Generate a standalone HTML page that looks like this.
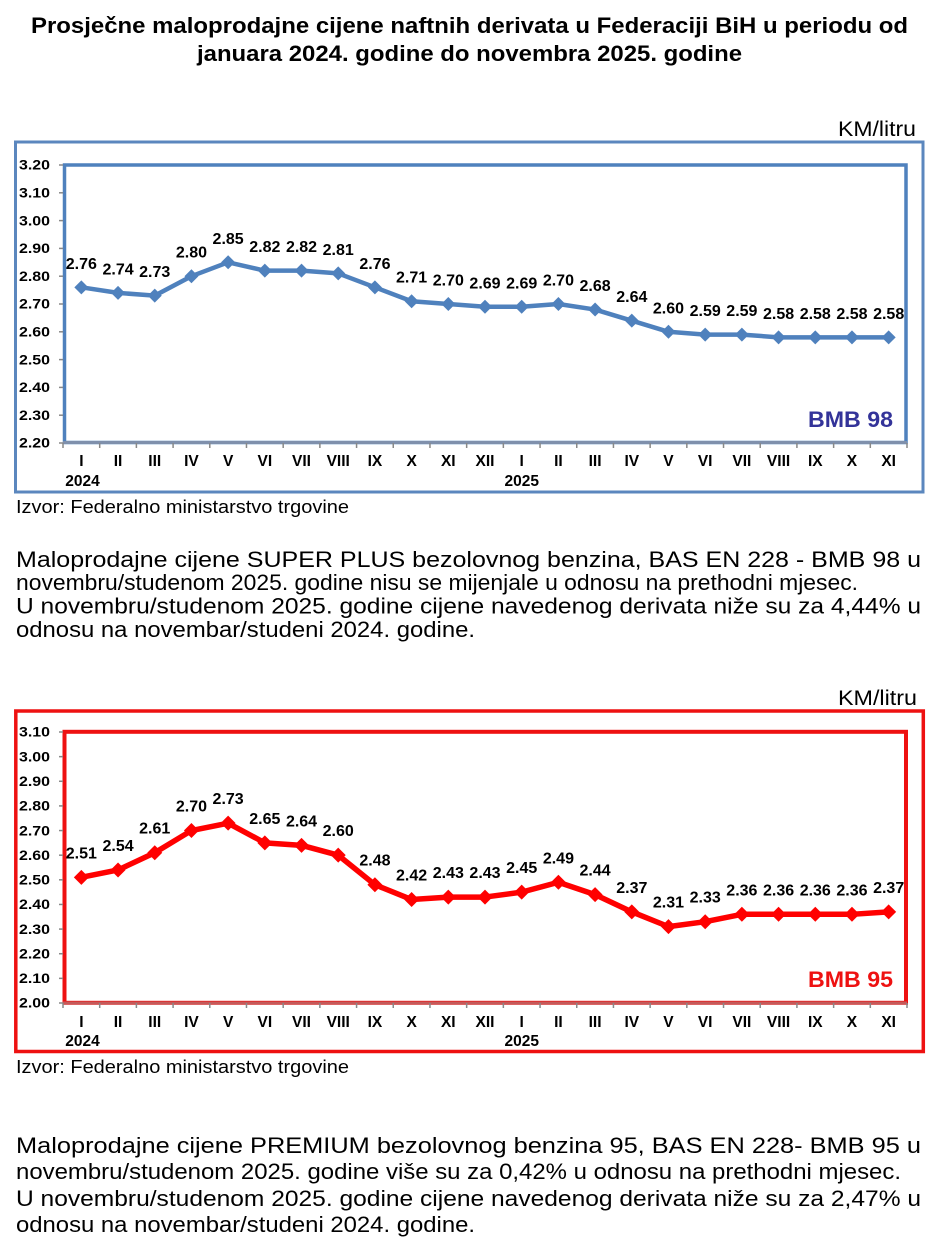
<!DOCTYPE html>
<html><head><meta charset="utf-8"><style>
html,body{margin:0;padding:0;background:#fff;}
svg{display:block;}
text{font-family:"Liberation Sans",Arial,sans-serif;}
.b{font-weight:bold;}
</style></head><body>
<svg width="937" height="1258" viewBox="0 0 937 1258" xmlns="http://www.w3.org/2000/svg">
<defs>
<path id="db" d="M0,-7 L7,0 L0,7 L-7,0Z" fill="#4F81BD"/>
<path id="dr" d="M0,-7.5 L7.5,0 L0,7.5 L-7.5,0Z" fill="#FF0000"/>
</defs>
<rect width="937" height="1258" fill="#fff"/>
<!-- Title -->
<text class="b" x="31" y="33" font-size="22" textLength="877" lengthAdjust="spacingAndGlyphs">Prosječne maloprodajne cijene naftnih derivata u Federaciji BiH u periodu od</text>
<text class="b" x="197" y="61" font-size="22" textLength="545" lengthAdjust="spacingAndGlyphs">januara 2024. godine do novembra 2025. godine</text>

<!-- ===== TOP CHART ===== -->
<text x="838" y="136" font-size="21" textLength="78" lengthAdjust="spacingAndGlyphs">KM/litru</text>
<rect x="15.5" y="142" width="907.5" height="350" fill="none" stroke="#5B87BE" stroke-width="3"/>
<rect x="64.5" y="165" width="841.5" height="277.5" fill="none" stroke="#4F81BD" stroke-width="3.5"/>
<line x1="63" y1="442.5" x2="907" y2="442.5" stroke="#7F90AC" stroke-width="3"/>
<g stroke="#888" stroke-width="1.5">
<line x1="59" y1="443" x2="63" y2="443"/><line x1="59" y1="415.2" x2="63" y2="415.2"/><line x1="59" y1="387.4" x2="63" y2="387.4"/><line x1="59" y1="359.6" x2="63" y2="359.6"/><line x1="59" y1="331.8" x2="63" y2="331.8"/><line x1="59" y1="304" x2="63" y2="304"/><line x1="59" y1="276.2" x2="63" y2="276.2"/><line x1="59" y1="248.4" x2="63" y2="248.4"/><line x1="59" y1="220.6" x2="63" y2="220.6"/><line x1="59" y1="192.8" x2="63" y2="192.8"/><line x1="59" y1="165" x2="63" y2="165"/>
<line x1="63" y1="443" x2="63" y2="448"/><line x1="99.7" y1="443" x2="99.7" y2="448"/><line x1="136.39" y1="443" x2="136.39" y2="448"/><line x1="173.09" y1="443" x2="173.09" y2="448"/><line x1="209.78" y1="443" x2="209.78" y2="448"/><line x1="246.48" y1="443" x2="246.48" y2="448"/><line x1="283.18" y1="443" x2="283.18" y2="448"/><line x1="319.87" y1="443" x2="319.87" y2="448"/><line x1="356.57" y1="443" x2="356.57" y2="448"/><line x1="393.26" y1="443" x2="393.26" y2="448"/><line x1="429.96" y1="443" x2="429.96" y2="448"/><line x1="466.66" y1="443" x2="466.66" y2="448"/><line x1="503.35" y1="443" x2="503.35" y2="448"/><line x1="540.05" y1="443" x2="540.05" y2="448"/><line x1="576.74" y1="443" x2="576.74" y2="448"/><line x1="613.44" y1="443" x2="613.44" y2="448"/><line x1="650.14" y1="443" x2="650.14" y2="448"/><line x1="686.83" y1="443" x2="686.83" y2="448"/><line x1="723.53" y1="443" x2="723.53" y2="448"/><line x1="760.22" y1="443" x2="760.22" y2="448"/><line x1="796.92" y1="443" x2="796.92" y2="448"/><line x1="833.62" y1="443" x2="833.62" y2="448"/><line x1="870.31" y1="443" x2="870.31" y2="448"/><line x1="907" y1="443" x2="907" y2="448"/>
</g>
<g class="b" font-size="14">
<text x="19" y="447.7" textLength="31" lengthAdjust="spacingAndGlyphs">2.20</text>
<text x="19" y="419.9" textLength="31" lengthAdjust="spacingAndGlyphs">2.30</text>
<text x="19" y="392.1" textLength="31" lengthAdjust="spacingAndGlyphs">2.40</text>
<text x="19" y="364.3" textLength="31" lengthAdjust="spacingAndGlyphs">2.50</text>
<text x="19" y="336.5" textLength="31" lengthAdjust="spacingAndGlyphs">2.60</text>
<text x="19" y="308.7" textLength="31" lengthAdjust="spacingAndGlyphs">2.70</text>
<text x="19" y="280.9" textLength="31" lengthAdjust="spacingAndGlyphs">2.80</text>
<text x="19" y="253.1" textLength="31" lengthAdjust="spacingAndGlyphs">2.90</text>
<text x="19" y="225.3" textLength="31" lengthAdjust="spacingAndGlyphs">3.00</text>
<text x="19" y="197.5" textLength="31" lengthAdjust="spacingAndGlyphs">3.10</text>
<text x="19" y="169.7" textLength="31" lengthAdjust="spacingAndGlyphs">3.20</text>
</g>
<g class="b" font-size="15.5" text-anchor="middle">
<text x="81.35" y="466">I</text><text x="118.04" y="466">II</text><text x="154.74" y="466">III</text><text x="191.44" y="466">IV</text><text x="228.13" y="466">V</text><text x="264.83" y="466">VI</text><text x="301.52" y="466">VII</text><text x="338.22" y="466">VIII</text><text x="374.92" y="466">IX</text><text x="411.61" y="466">X</text><text x="448.31" y="466">XI</text><text x="485" y="466">XII</text><text x="521.7" y="466">I</text><text x="558.4" y="466">II</text><text x="595.09" y="466">III</text><text x="631.79" y="466">IV</text><text x="668.48" y="466">V</text><text x="705.18" y="466">VI</text><text x="741.87" y="466">VII</text><text x="778.57" y="466">VIII</text><text x="815.27" y="466">IX</text><text x="851.96" y="466">X</text><text x="888.66" y="466">XI</text>
<text x="82.5" y="486">2024</text><text x="521.7" y="486">2025</text>
</g>
<polyline fill="none" stroke="#4F81BD" stroke-width="4.5" stroke-linejoin="round" points="81.35,287.32 118.04,292.88 154.74,295.66 191.44,276.2 228.13,262.3 264.83,270.64 301.52,270.64 338.22,273.42 374.92,287.32 411.61,301.22 448.31,304 485,306.78 521.7,306.78 558.4,304 595.09,309.56 631.79,320.68 668.48,331.8 705.18,334.58 741.87,334.58 778.57,337.36 815.27,337.36 851.96,337.36 888.66,337.36"/>
<use href="#db" x="81.35" y="287.32"/><use href="#db" x="118.04" y="292.88"/><use href="#db" x="154.74" y="295.66"/><use href="#db" x="191.44" y="276.2"/><use href="#db" x="228.13" y="262.3"/><use href="#db" x="264.83" y="270.64"/><use href="#db" x="301.52" y="270.64"/><use href="#db" x="338.22" y="273.42"/><use href="#db" x="374.92" y="287.32"/><use href="#db" x="411.61" y="301.22"/><use href="#db" x="448.31" y="304"/><use href="#db" x="485" y="306.78"/><use href="#db" x="521.7" y="306.78"/><use href="#db" x="558.4" y="304"/><use href="#db" x="595.09" y="309.56"/><use href="#db" x="631.79" y="320.68"/><use href="#db" x="668.48" y="331.8"/><use href="#db" x="705.18" y="334.58"/><use href="#db" x="741.87" y="334.58"/><use href="#db" x="778.57" y="337.36"/><use href="#db" x="815.27" y="337.36"/><use href="#db" x="851.96" y="337.36"/><use href="#db" x="888.66" y="337.36"/>
<g class="b" font-size="16" text-anchor="middle">
<text x="81.35" y="268.8">2.76</text><text x="118.04" y="274.4">2.74</text><text x="154.74" y="277.2">2.73</text><text x="191.44" y="257.7">2.80</text><text x="228.13" y="243.8">2.85</text><text x="264.83" y="252.1">2.82</text><text x="301.52" y="252.1">2.82</text><text x="338.22" y="254.9">2.81</text><text x="374.92" y="268.8">2.76</text><text x="411.61" y="282.7">2.71</text><text x="448.31" y="285.5">2.70</text><text x="485" y="288.3">2.69</text><text x="521.7" y="288.3">2.69</text><text x="558.4" y="285.5">2.70</text><text x="595.09" y="291.1">2.68</text><text x="631.79" y="302.2">2.64</text><text x="668.48" y="313.3">2.60</text><text x="705.18" y="316.1">2.59</text><text x="741.87" y="316.1">2.59</text><text x="778.57" y="318.9">2.58</text><text x="815.27" y="318.9">2.58</text><text x="851.96" y="318.9">2.58</text><text x="888.66" y="318.9">2.58</text>
</g>
<text class="b" x="808" y="427" font-size="22" fill="#333399" textLength="85" lengthAdjust="spacingAndGlyphs">BMB 98</text>
<text x="16" y="513" font-size="18.5" textLength="333" lengthAdjust="spacingAndGlyphs">Izvor: Federalno ministarstvo trgovine</text>

<!-- Paragraph 1 -->
<g font-size="22">
<text x="16" y="567" textLength="905" lengthAdjust="spacingAndGlyphs">Maloprodajne cijene SUPER PLUS bezolovnog benzina, BAS EN 228 - BMB 98 u</text>
<text x="16" y="590" textLength="842" lengthAdjust="spacingAndGlyphs">novembru/studenom 2025. godine nisu se mijenjale u odnosu na prethodni mjesec.</text>
<text x="16" y="613.5" textLength="905" lengthAdjust="spacingAndGlyphs">U novembru/studenom 2025. godine cijene navedenog derivata niže su za 4,44% u</text>
<text x="16" y="637" textLength="459" lengthAdjust="spacingAndGlyphs">odnosu na novembar/studeni 2024. godine.</text>
</g>

<!-- ===== BOTTOM CHART ===== -->
<text x="838" y="705" font-size="21" textLength="79" lengthAdjust="spacingAndGlyphs">KM/litru</text>
<rect x="15.8" y="711" width="907.5" height="340.5" fill="none" stroke="#EE1111" stroke-width="3.5"/>
<rect x="64.5" y="731.8" width="841.5" height="271" fill="none" stroke="#EE1111" stroke-width="4"/>
<line x1="63" y1="1003" x2="907" y2="1003" stroke="#C45A5A" stroke-width="3"/>
<g stroke="#888" stroke-width="1.5">
<line x1="59" y1="1003" x2="63" y2="1003"/><line x1="59" y1="978.36" x2="63" y2="978.36"/><line x1="59" y1="953.73" x2="63" y2="953.73"/><line x1="59" y1="929.09" x2="63" y2="929.09"/><line x1="59" y1="904.45" x2="63" y2="904.45"/><line x1="59" y1="879.82" x2="63" y2="879.82"/><line x1="59" y1="855.18" x2="63" y2="855.18"/><line x1="59" y1="830.55" x2="63" y2="830.55"/><line x1="59" y1="805.91" x2="63" y2="805.91"/><line x1="59" y1="781.27" x2="63" y2="781.27"/><line x1="59" y1="756.64" x2="63" y2="756.64"/><line x1="59" y1="732" x2="63" y2="732"/>
<line x1="63" y1="1003" x2="63" y2="1008"/><line x1="99.7" y1="1003" x2="99.7" y2="1008"/><line x1="136.39" y1="1003" x2="136.39" y2="1008"/><line x1="173.09" y1="1003" x2="173.09" y2="1008"/><line x1="209.78" y1="1003" x2="209.78" y2="1008"/><line x1="246.48" y1="1003" x2="246.48" y2="1008"/><line x1="283.18" y1="1003" x2="283.18" y2="1008"/><line x1="319.87" y1="1003" x2="319.87" y2="1008"/><line x1="356.57" y1="1003" x2="356.57" y2="1008"/><line x1="393.26" y1="1003" x2="393.26" y2="1008"/><line x1="429.96" y1="1003" x2="429.96" y2="1008"/><line x1="466.66" y1="1003" x2="466.66" y2="1008"/><line x1="503.35" y1="1003" x2="503.35" y2="1008"/><line x1="540.05" y1="1003" x2="540.05" y2="1008"/><line x1="576.74" y1="1003" x2="576.74" y2="1008"/><line x1="613.44" y1="1003" x2="613.44" y2="1008"/><line x1="650.14" y1="1003" x2="650.14" y2="1008"/><line x1="686.83" y1="1003" x2="686.83" y2="1008"/><line x1="723.53" y1="1003" x2="723.53" y2="1008"/><line x1="760.22" y1="1003" x2="760.22" y2="1008"/><line x1="796.92" y1="1003" x2="796.92" y2="1008"/><line x1="833.62" y1="1003" x2="833.62" y2="1008"/><line x1="870.31" y1="1003" x2="870.31" y2="1008"/><line x1="907" y1="1003" x2="907" y2="1008"/>
</g>
<g class="b" font-size="14">
<text x="19" y="1007.7" textLength="31" lengthAdjust="spacingAndGlyphs">2.00</text>
<text x="19" y="983.1" textLength="31" lengthAdjust="spacingAndGlyphs">2.10</text>
<text x="19" y="958.4" textLength="31" lengthAdjust="spacingAndGlyphs">2.20</text>
<text x="19" y="933.8" textLength="31" lengthAdjust="spacingAndGlyphs">2.30</text>
<text x="19" y="909.2" textLength="31" lengthAdjust="spacingAndGlyphs">2.40</text>
<text x="19" y="884.5" textLength="31" lengthAdjust="spacingAndGlyphs">2.50</text>
<text x="19" y="859.9" textLength="31" lengthAdjust="spacingAndGlyphs">2.60</text>
<text x="19" y="835.3" textLength="31" lengthAdjust="spacingAndGlyphs">2.70</text>
<text x="19" y="810.6" textLength="31" lengthAdjust="spacingAndGlyphs">2.80</text>
<text x="19" y="786" textLength="31" lengthAdjust="spacingAndGlyphs">2.90</text>
<text x="19" y="761.3" textLength="31" lengthAdjust="spacingAndGlyphs">3.00</text>
<text x="19" y="736.7" textLength="31" lengthAdjust="spacingAndGlyphs">3.10</text>
</g>
<g class="b" font-size="15.5" text-anchor="middle">
<text x="81.35" y="1027">I</text><text x="118.04" y="1027">II</text><text x="154.74" y="1027">III</text><text x="191.44" y="1027">IV</text><text x="228.13" y="1027">V</text><text x="264.83" y="1027">VI</text><text x="301.52" y="1027">VII</text><text x="338.22" y="1027">VIII</text><text x="374.92" y="1027">IX</text><text x="411.61" y="1027">X</text><text x="448.31" y="1027">XI</text><text x="485" y="1027">XII</text><text x="521.7" y="1027">I</text><text x="558.4" y="1027">II</text><text x="595.09" y="1027">III</text><text x="631.79" y="1027">IV</text><text x="668.48" y="1027">V</text><text x="705.18" y="1027">VI</text><text x="741.87" y="1027">VII</text><text x="778.57" y="1027">VIII</text><text x="815.27" y="1027">IX</text><text x="851.96" y="1027">X</text><text x="888.66" y="1027">XI</text>
<text x="82.5" y="1046">2024</text><text x="521.7" y="1046">2025</text>
</g>
<polyline fill="none" stroke="#FF0000" stroke-width="5.5" stroke-linejoin="round" points="81.35,877.35 118.04,869.96 154.74,852.72 191.44,830.55 228.13,823.16 264.83,842.87 301.52,845.33 338.22,855.18 374.92,884.75 411.61,899.53 448.31,897.07 485,897.07 521.7,892.14 558.4,882.28 595.09,894.6 631.79,911.85 668.48,926.63 705.18,921.7 741.87,914.31 778.57,914.31 815.27,914.31 851.96,914.31 888.66,911.85"/>
<use href="#dr" x="81.35" y="877.35"/><use href="#dr" x="118.04" y="869.96"/><use href="#dr" x="154.74" y="852.72"/><use href="#dr" x="191.44" y="830.55"/><use href="#dr" x="228.13" y="823.16"/><use href="#dr" x="264.83" y="842.87"/><use href="#dr" x="301.52" y="845.33"/><use href="#dr" x="338.22" y="855.18"/><use href="#dr" x="374.92" y="884.75"/><use href="#dr" x="411.61" y="899.53"/><use href="#dr" x="448.31" y="897.07"/><use href="#dr" x="485" y="897.07"/><use href="#dr" x="521.7" y="892.14"/><use href="#dr" x="558.4" y="882.28"/><use href="#dr" x="595.09" y="894.6"/><use href="#dr" x="631.79" y="911.85"/><use href="#dr" x="668.48" y="926.63"/><use href="#dr" x="705.18" y="921.7"/><use href="#dr" x="741.87" y="914.31"/><use href="#dr" x="778.57" y="914.31"/><use href="#dr" x="815.27" y="914.31"/><use href="#dr" x="851.96" y="914.31"/><use href="#dr" x="888.66" y="911.85"/>
<g class="b" font-size="16" text-anchor="middle">
<text x="81.35" y="858.3">2.51</text><text x="118.04" y="851">2.54</text><text x="154.74" y="833.7">2.61</text><text x="191.44" y="811.5">2.70</text><text x="228.13" y="804.2">2.73</text><text x="264.83" y="823.9">2.65</text><text x="301.52" y="826.3">2.64</text><text x="338.22" y="836.2">2.60</text><text x="374.92" y="865.7">2.48</text><text x="411.61" y="880.5">2.42</text><text x="448.31" y="878.1">2.43</text><text x="485" y="878.1">2.43</text><text x="521.7" y="873.1">2.45</text><text x="558.4" y="863.3">2.49</text><text x="595.09" y="875.6">2.44</text><text x="631.79" y="892.9">2.37</text><text x="668.48" y="907.6">2.31</text><text x="705.18" y="902.7">2.33</text><text x="741.87" y="895.3">2.36</text><text x="778.57" y="895.3">2.36</text><text x="815.27" y="895.3">2.36</text><text x="851.96" y="895.3">2.36</text><text x="888.66" y="892.9">2.37</text>
</g>
<text class="b" x="808" y="987" font-size="22" fill="#EE1111" textLength="85" lengthAdjust="spacingAndGlyphs">BMB 95</text>
<text x="16" y="1073" font-size="18.5" textLength="333" lengthAdjust="spacingAndGlyphs">Izvor: Federalno ministarstvo trgovine</text>

<!-- Paragraph 2 -->
<g font-size="22">
<text x="16" y="1153" textLength="905" lengthAdjust="spacingAndGlyphs">Maloprodajne cijene PREMIUM bezolovnog benzina 95, BAS EN 228- BMB 95 u</text>
<text x="16" y="1179" textLength="885" lengthAdjust="spacingAndGlyphs">novembru/studenom 2025. godine više su za 0,42% u odnosu na prethodni mjesec.</text>
<text x="16" y="1206" textLength="905" lengthAdjust="spacingAndGlyphs">U novembru/studenom 2025. godine cijene navedenog derivata niže su za 2,47% u</text>
<text x="16" y="1232" textLength="459" lengthAdjust="spacingAndGlyphs">odnosu na novembar/studeni 2024. godine.</text>
</g>
</svg>
</body></html>
